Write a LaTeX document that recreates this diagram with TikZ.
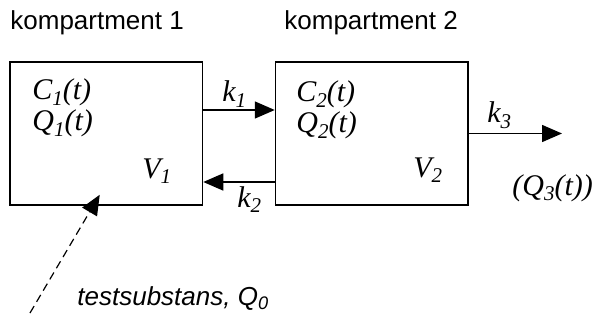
\documentclass[tikz,border=0pt]{standalone}
\usepackage{fontspec}
\setmainfont{Liberation Serif}
\setsansfont{Liberation Sans}
\usetikzlibrary{arrows.meta,positioning}

\newcommand{\lowsub}[1]{\raisebox{-0.18em}{\fontsize{10.5}{12}\selectfont #1}}

\begin{document}
\begin{tikzpicture}[
    x=0.5pt, y=-0.5pt,
    comp/.style={
        rectangle, draw, line width=0.75pt, inner sep=0pt,
        minimum width=96.25pt, minimum height=71.5pt
    },
    lbl/.style={anchor=base west, inner sep=0pt, font=\fontsize{15}{17}\selectfont\itshape},
    title/.style={anchor=base west, inner sep=0pt, font=\fontsize{13}{15}\selectfont\sffamily},
    flow/.style={-{Triangle[length=10pt,width=8.5pt]}, line width=0.75pt},
]
\useasboundingbox (0,0) rectangle (593,320);

% Compartments
\node[comp] (box1) at (106.25,133.5) {};
\node[comp, right=35.75pt of box1] (box2) {};

% Titles
\node[title] (title1) at (10,30) {kompartment 1};
\node[title] (title2) at (284,30) {kompartment 2};

% Contents
\node[lbl] (c1) at (32,100) {C\lowsub{1}(t)};
\node[lbl] (q1) at (32,131) {Q\lowsub{1}(t)};
\node[lbl] (v1) at (142,178) {V\lowsub{1}};
\node[lbl] (c2) at (296,102) {C\lowsub{2}(t)};
\node[lbl] (q2) at (296,133) {Q\lowsub{2}(t)};
\node[lbl] (v2) at (413,177) {V\lowsub{2}};

% Rate constants
\node[lbl] (k1) at (222,102) {k\lowsub{1}};
\node[lbl] (k2) at (237,207) {k\lowsub{2}};
\node[lbl] (k3) at (487,123) {k\lowsub{3}};
\node[lbl] (q3) at (512,195) {(Q\lowsub{3}(t))};

% Dose
\node[lbl, font=\fontsize{13}{15}\selectfont\sffamily\itshape] (dosetext) at (77,305) {testsubstans, Q\textsubscript{0}};
\coordinate (dose) at (30,313);
\coordinate (out) at (562,133.5);

% Arrows
\draw[flow] ([yshift=11.75pt]box1.east) -- ([yshift=11.75pt]box2.west);
\draw[flow] ([yshift=-24.25pt]box2.west) -- ([yshift=-24.25pt]box1.east);
\draw[flow] (box2.east) -- (out);
\draw[flow, line width=0.6pt, dash pattern=on 4pt off 2.5pt] (dose) -- ([xshift=-3.25pt,yshift=5.5pt]box1.south);
\end{tikzpicture}
\end{document}
